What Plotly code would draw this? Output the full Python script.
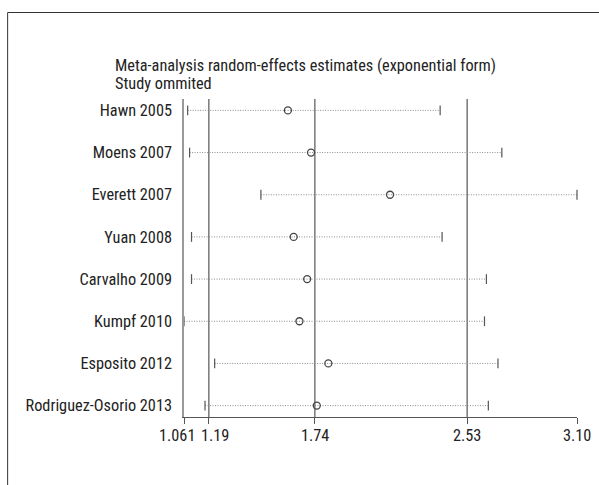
import plotly.graph_objects as go

studies = ["Hawn 2005", "Moens 2007", "Everett 2007", "Yuan 2008",
           "Carvalho 2009", "Kumpf 2010", "Esposito 2012", "Rodriguez-Osorio 2013"]
estimate = [1.60, 1.72, 2.13, 1.63, 1.70, 1.66, 1.81, 1.75]
lower_ci = [1.08, 1.09, 1.46, 1.10, 1.10, 1.061, 1.22, 1.17]
upper_ci = [2.39, 2.71, 3.10, 2.40, 2.63, 2.62, 2.69, 2.64]
ref_lines = [1.19, 1.74, 2.53]
tick_vals = [1.061, 1.19, 1.74, 2.53, 3.10]
tick_labels = ["1.061", "1.19", "1.74", "2.53", "3.10"]
title_lines = ["Meta-analysis random-effects estimates (exponential form)", "Study ommited"]

FONT = "Roboto Condensed, Roboto, sans-serif"
FS = 16.3
ypos = list(range(1, len(studies) + 1))

W, H = 599, 485
L, T = 184, 99
PW, PH = 393.3, 318
R, B = W - L - PW, H - T - PH

fig = go.Figure()

lx, ly = [], []
for y, lo, hi in zip(ypos, lower_ci, upper_ci):
    lx += [lo, hi, None]
    ly += [y, y, None]
fig.add_trace(go.Scatter(x=lx, y=ly, mode="lines",
                         line=dict(color="#8c8c8c", width=1, dash="1px,1.5px"),
                         hoverinfo="skip", showlegend=False))
fig.add_trace(go.Scatter(x=lower_ci + upper_ci, y=ypos + ypos, mode="markers",
                         marker=dict(symbol="line-ns", size=7,
                                     line=dict(color="#555555", width=1.2)),
                         showlegend=False, cliponaxis=False))
fig.add_trace(go.Scatter(x=estimate, y=ypos, mode="markers",
                         marker=dict(symbol="circle-open", size=7,
                                     color="#444444", line=dict(width=1.3)),
                         showlegend=False))

shapes = []
for v in ref_lines:
    shapes.append(dict(type="line", xref="x", yref="paper", x0=v, x1=v, y0=0, y1=1,
                       line=dict(color="#555555", width=1.2), layer="below"))
shapes.append(dict(type="rect", xref="paper", yref="paper",
                   x0=(7.5 - L) / PW, x1=1.5, y0=-0.5, y1=(T + PH - 12.5) / PH,
                   line=dict(color="#333333", width=1)))

annotations = []
shifts = [-7, 6, 0, 0, 0]
for v, t, s in zip(tick_vals, tick_labels, shifts):
    annotations.append(dict(x=v, y=0, xref="x", yref="paper", text=t,
                            showarrow=False, xanchor="center", yanchor="top",
                            xshift=s, yshift=-7,
                            font=dict(family=FONT, size=FS, color="#222222")))
for i, t in enumerate(title_lines):
    annotations.append(dict(x=(113 - L) / PW, y=(T + PH - (65 + 19 * i)) / PH,
                            xref="paper", yref="paper", text=t, showarrow=False,
                            xanchor="left", yanchor="middle",
                            font=dict(family=FONT, size=FS, color="#222222")))

fig.update_layout(
    width=W, height=H,
    margin=dict(l=L, r=R, t=T, b=B, autoexpand=False),
    paper_bgcolor="white", plot_bgcolor="white",
    font=dict(family=FONT, size=FS, color="#222222"),
    shapes=shapes, annotations=annotations,
    xaxis=dict(range=[tick_vals[0], tick_vals[-1]], showgrid=False, zeroline=False,
               showline=True, linecolor="#555555", linewidth=1.2, automargin=False,
               ticks="outside", ticklen=6, tickcolor="#555555", tickwidth=1.2,
               tickvals=tick_vals, showticklabels=False),
    yaxis=dict(range=[8.27, 0.73], showgrid=False, zeroline=False, automargin=False,
               showline=True, linecolor="#999999", linewidth=1.5,
               tickvals=ypos, ticktext=studies, ticks="", ticklabelstandoff=7,
               tickfont=dict(family=FONT, size=FS, color="#222222")),
)

fig.write_html("out.html",
               config={"displayModeBar": False},
               post_script="document.body.style.margin='0';"
                           "document.body.style.overflow='hidden';")
